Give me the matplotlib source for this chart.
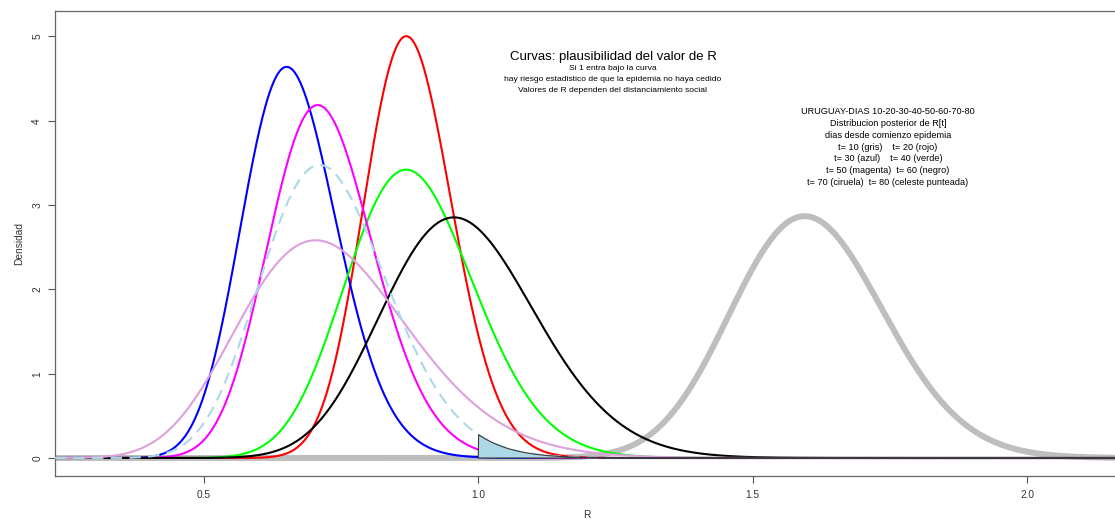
import math
import numpy as np
import matplotlib
matplotlib.use("Agg")
import matplotlib.pyplot as plt

# ---- data (posterior of R[t], gamma densities: mean & sd) ----
days = [10, 20, 30, 40, 50, 60, 70, 80]
colors = ["#BEBEBE", "red", "blue", "#00FF00", "magenta", "black", "plum", "lightblue"]
means = [1.607, 0.876, 0.662, 0.884, 0.720, 0.976, 0.737, 0.729]
sds = [0.1395, 0.0800, 0.0866, 0.1175, 0.0960, 0.1410, 0.1575, 0.1160]
title_lines = ["Si 1 entra bajo la curva",
               "hay riesgo estadistico de que la epidemia no haya cedido",
               "Valores de R dependen del distanciamiento social"]
legend_lines = ["URUGUAY-DIAS 10-20-30-40-50-60-70-80",
                "Distribucion posterior de R[t]",
                "dias desde comienzo epidemia",
                "t= 10 (gris)    t= 20 (rojo)",
                "t= 30 (azul)    t= 40 (verde)",
                "t= 50 (magenta)  t= 60 (negro)",
                "t= 70 (ciruela)  t= 80 (celeste punteada)"]
xticks = [0.5, 1.0, 1.5, 2.0]
yticks = [0, 1, 2, 3, 4, 5]


def gamma_pdf(x, mean, sd):
    theta = sd ** 2 / mean
    k = mean / theta
    logp = (k - 1) * np.log(x) - x / theta - math.lgamma(k) - k * math.log(theta)
    return np.exp(logp)


W, H = 1115, 521
fig = plt.figure(figsize=(W / 100, H / 100), dpi=100)
plt.rcParams['font.family'] = ['Liberation Sans', 'DejaVu Sans']

left_px, right_px, top_px, bot_px = 54.7, 1119, 11, 476
ax = fig.add_axes([left_px / W, 1 - bot_px / H, (right_px - left_px) / W, (bot_px - top_px) / H])

x = np.linspace(0.2, 2.25, 3000)
for i, (m, s, c) in enumerate(zip(means, sds, colors)):
    y = gamma_pdf(x, m, s)
    if i == 0:
        ax.plot(x, y, color=c, lw=4.3, solid_capstyle='butt', zorder=2)
    elif i == len(means) - 1:
        ax.plot(x, y, color=c, lw=1.5, ls=(0, (5.5, 3.5)), zorder=3)
    else:
        ax.plot(x, y, color=c, lw=1.5, zorder=3)

# shaded tail P(R>1) of last curve
xs = x[x >= 1.0]
ys = gamma_pdf(xs, means[-1], sds[-1])
px = np.concatenate([[1.0], xs, [xs[-1]]])
py = np.concatenate([[0.0], ys, [0.0]])
ax.fill(px, py, facecolor="lightblue", edgecolor="#3a3a3a", lw=0.8, zorder=4)

x0, x2 = 204.0, 1027.0
ppu_x = (x2 - x0) / 1.5
y0, y5 = 458.0, 36.5
ppu_y = (y0 - y5) / 5
ax.set_xlim(0.5 - (x0 - left_px) / ppu_x, 2.0 + (right_px - x2) / ppu_x)
ax.set_ylim((y0 - bot_px) / ppu_y, (y0 - top_px) / ppu_y)

ax.set_xticks(xticks)
ax.set_xticklabels([f"{v:.1f}" for v in xticks])
ax.set_yticks(yticks)
ax.set_yticklabels([str(v) for v in yticks])
for lab in ax.get_yticklabels():
    lab.set_rotation(90)
    lab.set_va('center')
ax.tick_params(axis='both', length=5, width=0.8, color='#555555', labelsize=7.3,
               labelcolor='#333333')
ax.tick_params(axis='x', pad=5)
ax.tick_params(axis='y', pad=4)
for sp in ax.spines.values():
    sp.set_color('#666666')
    sp.set_linewidth(0.9)

ax.set_xlabel("R", fontsize=7.3, color='#333333', labelpad=7)
ax.set_ylabel("Densidad", fontsize=7.3, color='#333333', labelpad=6)

# text blocks (figure pixel positions)
def ftext(px_x, px_y, s, size):
    fig.text(px_x / W, 1 - px_y / H, s, ha='center', va='center', fontsize=size, color='black')

ftext(613, 57, "Curvas: plausibilidad del valor de R", 9.5)
for j, s in enumerate(title_lines):
    ftext(613, 69 + j * 10.6, s, 6.1)
for j, s in enumerate(legend_lines):
    ftext(888, 112 + j * 11.7, s, 6.6)

fig.savefig("out.png", dpi=100)
